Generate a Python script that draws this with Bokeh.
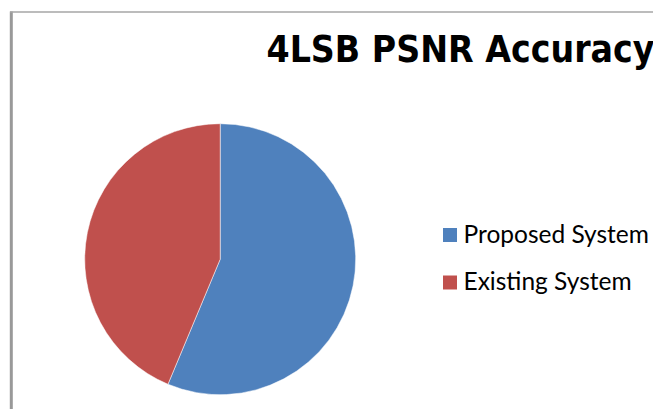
import math
from bokeh.plotting import figure
from bokeh.models import Range1d, ColumnDataSource
from bokeh.core.properties import value
from bokeh.embed import file_html
from bokeh.resources import INLINE

# ---- data ----
title_text = "4LSB PSNR Accuracy"
categories = ["Proposed System", "Existing System"]
psnr_values = [56.3, 43.7]
colors = ["#4F81BD", "#C0504D"]

W, H = 653, 409
p = figure(width=W, height=H, output_backend="svg", toolbar_location=None,
           x_range=Range1d(0, W), y_range=Range1d(0, H), min_border=0)
p.axis.visible = False
p.grid.visible = False
p.outline_line_color = None
p.background_fill_color = "white"
p.border_fill_color = "white"

def sy(y):  # picture y (from top) -> data y
    return H - y

def sx(x):
    return x

# chart border (left and top visible)
p.segment(x0=[sx(10.8)], y0=[sy(11)], x1=[sx(10.8)], y1=[sy(420)], line_color="#999999", line_width=3)
p.segment(x0=[sx(9.5)], y0=[sy(11.6)], x1=[sx(670)], y1=[sy(11.6)], line_color="#a6a6a6", line_width=1.5)

# pie
total = sum(psnr_values)
starts, ends = [], []
acc = 0.0
for v in psnr_values:
    starts.append(math.pi / 2 - 2 * math.pi * acc / total)
    acc += v
    ends.append(math.pi / 2 - 2 * math.pi * acc / total)
src = ColumnDataSource(dict(start=starts, end=ends, color=colors, cat=categories))
cx, cy, r = sx(219.7), sy(258.7), 135.5
p.wedge(x=cx, y=cy, radius=r, start_angle="start", end_angle="end", direction="clock",
        fill_color="color", line_color="white", line_width=0.5, source=src)

# title
p.text(x=[sx(266)], y=[sy(48.5)], text=[title_text],
       text_font=value("DejaVu Sans Condensed"),
       text_font_style="bold", text_font_size="37px", text_color="black",
       text_baseline="alphabetic", text_align="left")

# legend
ly = [sy(234.5), sy(282)]
p.scatter(x=[sx(449.5)] * 2, y=ly, marker="square", size=14, fill_color=colors, line_color=None)
p.text(x=[sx(463)] * 2, y=[sy(232.5), sy(279.8)], text=categories, text_font=value("Lato"),
       text_font_size="24.5px", text_color="black", text_baseline="alphabetic", text_align="left")

open("out.html", "w").write(file_html(p, INLINE))
